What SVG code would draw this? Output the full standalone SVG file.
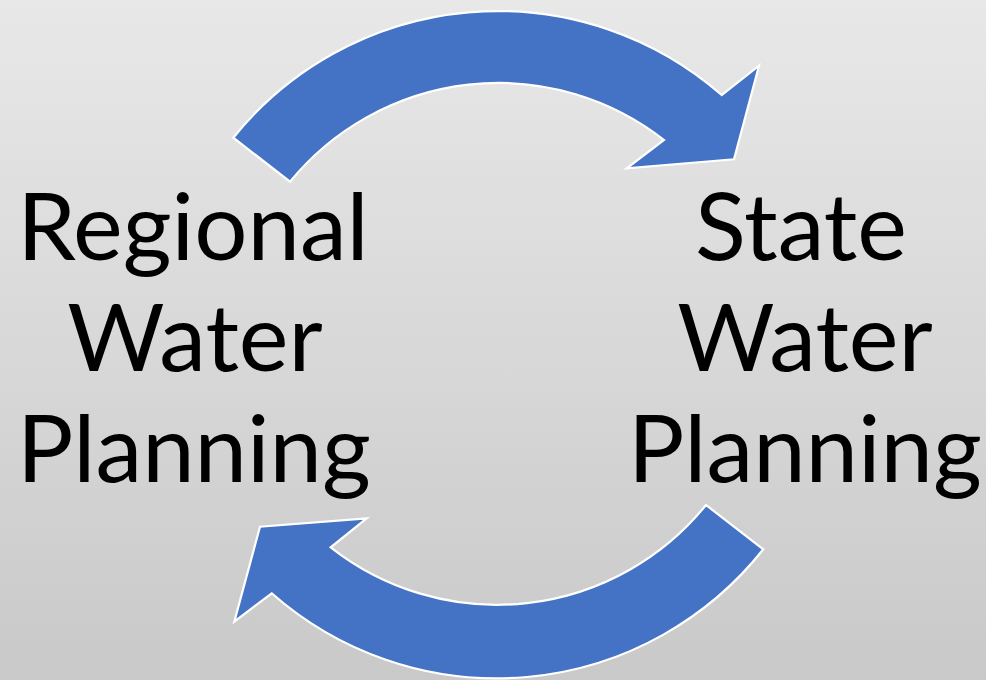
<svg xmlns="http://www.w3.org/2000/svg" width="986" height="680" viewBox="0 0 986 680">
  <defs>
    <linearGradient id="bg" x1="0" y1="0" x2="0" y2="1">
      <stop offset="0" stop-color="#e8e8e8"/>
      <stop offset="1" stop-color="#c9c9c9"/>
    </linearGradient>
  </defs>
  <style>
    .arrow { fill: #4472c4; stroke: #ffffff; stroke-width: 2.2; stroke-linejoin: miter; }
    .label { font-family: Lato, "Liberation Sans", sans-serif; font-size: 94px; fill: #000000; text-anchor: middle; }
  </style>
  <rect x="0" y="0" width="986" height="680" fill="url(#bg)"/>
  <g id="connectors">
    <path id="arrow-regional-to-state" class="arrow" d="M 233.3,137.7 A 340 340 0 0 1 721.7,95 L 759,65.7 L 734,159.3 L 626.7,168.3 L 664,140 A 269 269 0 0 0 290,181.7 Z"/>
    <path id="arrow-state-to-regional" class="arrow" d="M 763.3,549.3 A 340 340 0 0 1 271.7,593.3 L 234.3,621.7 L 260,526.7 L 366.7,518.3 L 330.7,547.3 A 269 269 0 0 0 706,505 Z"/>
  </g>
  <g id="node-regional">
    <text class="label" x="193" y="260">Regional</text>
    <text class="label" x="195" y="371">Water</text>
    <text class="label" x="194" y="482">Planning</text>
  </g>
  <g id="node-state">
    <text class="label" x="801" y="260">State</text>
    <text class="label" x="805" y="371">Water</text>
    <text class="label" x="805" y="482">Planning</text>
  </g>
</svg>
